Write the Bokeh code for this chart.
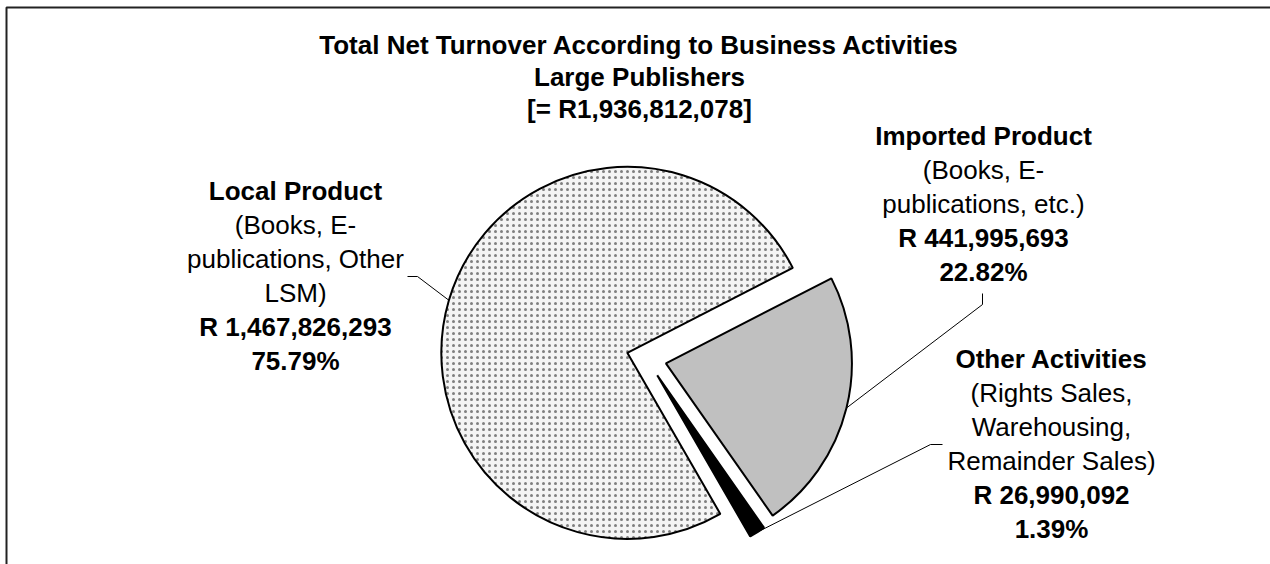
import math
from bokeh.plotting import figure
from bokeh.models import Range1d, ColumnDataSource
from bokeh.core.properties import value
from bokeh.embed import file_html
from bokeh.resources import INLINE

# ---------------- data ----------------
categories = ["Local Product", "Imported Product", "Other Activities"]
descriptions = [
    ["(Books, E-", "publications, Other", "LSM)"],
    ["(Books, E-", "publications, etc.)"],
    ["(Rights Sales,", "Warehousing,", "Remainder Sales)"],
]
amounts = [1467826293, 441995693, 26990092]
title_lines = ["Total Net Turnover According to Business Activities", "Large Publishers"]

total = sum(amounts)
shares = [a / total for a in amounts]

# ---------------- layout (page pixel coordinates) ----------------
W, H = 1270, 564


def dx(px):
    return px


def dy(py):
    return H - py


CENTER = (646, 358)
RADIUS = 186
EXPLODE = 20
FIRST_ANGLE = math.radians(300)  # slices run clockwise from here

fills = ["#f4f4f4", "#C0C0C0", "#000000"]
hatches = ["dot", " ", " "]

FONT = value("Liberation Sans")
LABEL_SIZE = "26px"
TITLE_SIZE = "26px"
LINE_STEP = 34
TITLE_STEP = 32

# label block centre x and first-line y, leader elbow & end
label_pos = [(295, 190), (983, 135), (1051, 358)]
leader_pts = [((417, 276), (407, 276)), ((982, 304), (982, 293)), ((930, 444), (942, 444))]

p = figure(width=W, height=H, x_range=Range1d(0, W), y_range=Range1d(0, H),
           output_backend="svg", toolbar_location=None, min_border=0)
p.axis.visible = False
p.grid.visible = False
p.outline_line_color = None
p.background_fill_color = "white"
p.border_fill_color = "white"

# border (left & top visible)
p.line(x=[dx(6), dx(6), W], y=[0, dy(7), dy(7)], line_color="#222222", line_width=2)

# wedges
cx0, cy0 = dx(CENTER[0]), dy(CENTER[1])
xs, ys, starts, ends, mids = [], [], [], [], []
cum = 0.0
for s in shares:
    a_end = FIRST_ANGLE - 2 * math.pi * cum
    a_start = FIRST_ANGLE - 2 * math.pi * (cum + s)
    mid = (a_start + a_end) / 2
    xs.append(cx0 + EXPLODE * math.cos(mid))
    ys.append(cy0 + EXPLODE * math.sin(mid))
    starts.append(a_start)
    ends.append(a_end)
    mids.append(mid)
    cum += s

src = ColumnDataSource(dict(x=xs, y=ys, start=starts, end=ends, fill=fills, hatch=hatches))
p.wedge(x="x", y="y", radius=RADIUS, start_angle="start", end_angle="end", source=src,
        fill_color="fill", line_color="black", line_width=2,
        hatch_pattern="hatch", hatch_color="#7f7f7f", hatch_scale=6, hatch_weight=5)

# leader lines
lx, ly = [], []
for i, m in enumerate(mids):
    sx = xs[i] + RADIUS * math.cos(m)
    sy = ys[i] + RADIUS * math.sin(m)
    (e1x, e1y), (e2x, e2y) = leader_pts[i]
    lx.append([sx, dx(e1x), dx(e2x)])
    ly.append([sy, dy(e1y), dy(e2y)])
p.multi_line(xs=lx, ys=ly, line_color="black", line_width=1)

# title
title_all = title_lines + ["[= R{:,}]".format(total)]
for k, t in enumerate(title_all):
    p.text(x=[dx(639)], y=[dy(44 + k * TITLE_STEP)], text=[t], text_font=FONT,
           text_font_size=TITLE_SIZE, text_font_style="bold",
           text_align="center", text_baseline="middle", text_color="black")

# labels
for i, cat in enumerate(categories):
    lx0, ly0 = label_pos[i]
    lines = [(cat, "bold")] + [(d, "normal") for d in descriptions[i]] + \
            [("R {:,}".format(amounts[i]), "bold"), ("{:.2f}%".format(shares[i] * 100), "bold")]
    for k, (t, style) in enumerate(lines):
        p.text(x=[dx(lx0)], y=[dy(ly0 + k * LINE_STEP)], text=[t], text_font=FONT,
               text_font_size=LABEL_SIZE, text_font_style=style,
               text_align="center", text_baseline="middle", text_color="black")

open("out.html", "w").write(file_html(p, INLINE))
